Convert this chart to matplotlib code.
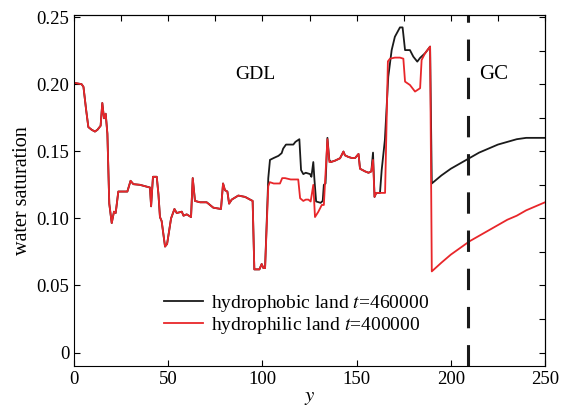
import matplotlib
matplotlib.use("Agg")
import matplotlib.pyplot as plt
from matplotlib.ticker import MultipleLocator

plt.rcParams['font.family'] = ['Liberation Serif', 'DejaVu Serif']
plt.rcParams['mathtext.fontset'] = 'stix'

# hydrophobic land, t=460000 (black)
y_phob = [0, 4, 5, 6.4, 7.6, 9.4, 11.1, 12.4, 14.1, 15, 15.9, 16.8, 17.7, 18.7, 20,
          21.2, 22.1, 23.5, 28.3, 30, 31.5, 35, 39.4, 40.3, 40.9, 41.6, 41.9, 43.9,
          44.8, 45.6, 46.5, 48.3, 49.4, 51.5, 53.3, 54.5, 57.2, 58.1, 59.8, 62.1, 63,
          64.2, 66.9, 70.4, 71.3, 73.9, 78, 79.1, 80.1, 81.4, 82.3, 83.7, 87.2, 90.8,
          93.4, 94.8, 95.7, 98.4, 99.6, 100.5, 101.4, 103.1, 104, 106, 108.5, 110.2,
          111, 112.5, 116.4, 117.5, 118.5, 119.6, 120.5, 121.7, 123, 125.3, 126, 127,
          127.6, 128.5, 130.9, 132, 132.6, 133.5, 134.5, 135.5, 136.3, 138.5, 141.2,
          143, 143.8, 145.6, 147.4, 149.2, 151, 151.8, 154.5, 156.3, 157.8, 158.7,
          159.5, 160.4, 162.4, 163.3, 165, 166.8, 168.6, 170.3, 173, 174.4, 175.7,
          178.3, 180.1, 182.2, 183.7, 186.3, 189, 189.9,
          195, 200, 205, 210, 215, 220, 225, 230, 235, 240, 245, 250]
s_phob = [0.201, 0.200, 0.198, 0.181, 0.168, 0.166, 0.1647, 0.166, 0.169, 0.186, 0.1746,
          0.178, 0.163, 0.111, 0.0965, 0.105, 0.104, 0.12, 0.12, 0.128, 0.1255, 0.125,
          0.1233, 0.123, 0.109, 0.125, 0.131, 0.131, 0.118, 0.101, 0.098, 0.079, 0.081,
          0.1, 0.107, 0.104, 0.105, 0.102, 0.103, 0.101, 0.130, 0.113, 0.112, 0.112,
          0.111, 0.108, 0.107, 0.126, 0.121, 0.12, 0.111, 0.114, 0.117, 0.116, 0.114,
          0.113, 0.062, 0.062, 0.066, 0.063, 0.063, 0.130, 0.1436, 0.145, 0.1466,
          0.1486, 0.152, 0.155, 0.155, 0.157, 0.158, 0.159, 0.136, 0.133, 0.134, 0.133,
          0.131, 0.142, 0.129, 0.1126, 0.1116, 0.113, 0.125, 0.126, 0.160, 0.1436,
          0.142, 0.143, 0.1448, 0.1498, 0.147, 0.1458, 0.145, 0.145, 0.148, 0.137,
          0.135, 0.134, 0.135, 0.149, 0.116, 0.119, 0.119, 0.136, 0.1585, 0.2056,
          0.2254, 0.2353, 0.2423, 0.2423, 0.2254, 0.2254, 0.2205, 0.2168, 0.2196,
          0.223, 0.228, 0.126,
          0.132, 0.137, 0.141, 0.145, 0.149, 0.152, 0.155, 0.157, 0.159, 0.160, 0.160, 0.160]

# hydrophilic land, t=400000 (red)
y_phil = [0, 4, 5, 6.4, 7.6, 9.4, 11.1, 12.4, 14.1, 15, 15.9, 16.8, 17.7, 18.7, 20,
          21.2, 22.1, 23.5, 28.3, 30, 31.5, 35, 39.4, 40.3, 40.9, 41.6, 41.9, 43.9,
          44.8, 45.6, 46.5, 48.3, 49.4, 51.5, 53.3, 54.5, 57.2, 58.1, 59.8, 62.1, 63,
          64.2, 66.9, 70.4, 71.3, 73.9, 78, 79.1, 80.1, 81.4, 82.3, 83.7, 87.2, 90.8,
          93.4, 94.8, 95.7, 98.4, 99.6, 100.5, 101.4, 103.1, 103.9, 106, 109.3, 110.5,
          112, 115, 119, 120, 121.7, 123, 124.4, 125.6, 127, 127.9, 129.7, 131.5, 132.6,
          133.2, 134.5, 135.5, 136.3, 138.5, 141.2, 143, 143.8, 145.6, 147.4, 149.2,
          151, 151.8, 154.5, 156.3, 157.8, 158.7, 159.5, 160.4, 165.1, 166.6, 167.7,
          170.3, 173, 174.8, 175.7, 178.3, 181, 183.7, 184.5, 186.3, 189, 189.9,
          195, 200, 205, 210, 215, 220, 225, 230, 235, 240, 245, 250]
s_phil = [0.201, 0.200, 0.198, 0.181, 0.168, 0.166, 0.1647, 0.166, 0.169, 0.186, 0.1746,
          0.178, 0.163, 0.111, 0.0965, 0.105, 0.104, 0.12, 0.12, 0.128, 0.1255, 0.125,
          0.1233, 0.123, 0.109, 0.125, 0.131, 0.131, 0.118, 0.101, 0.098, 0.079, 0.081,
          0.1, 0.107, 0.104, 0.105, 0.102, 0.103, 0.101, 0.130, 0.113, 0.112, 0.112,
          0.111, 0.108, 0.107, 0.126, 0.121, 0.12, 0.111, 0.114, 0.117, 0.116, 0.114,
          0.113, 0.062, 0.062, 0.066, 0.063, 0.063, 0.124, 0.127, 0.126, 0.126, 0.13,
          0.13, 0.129, 0.129, 0.115, 0.113, 0.114, 0.114, 0.1126, 0.125, 0.101, 0.105,
          0.11, 0.11, 0.126, 0.159, 0.142, 0.142, 0.143, 0.1448, 0.1498, 0.147, 0.1458,
          0.145, 0.145, 0.148, 0.137, 0.135, 0.134, 0.135, 0.1436, 0.116, 0.119, 0.119,
          0.217, 0.219, 0.2198, 0.2198, 0.219, 0.2019, 0.1994, 0.1945, 0.197, 0.218,
          0.223, 0.228, 0.0605,
          0.067, 0.073, 0.078, 0.083, 0.087, 0.091, 0.095, 0.099, 0.102, 0.106, 0.109, 0.112]

x_ticks = [0, 50, 100, 150, 200, 250]
s_ticks = [0, 0.05, 0.10, 0.15, 0.20, 0.25]
s_labels = ["0", "0.05", "0.10", "0.15", "0.20", "0.25"]
y_interface = 209

fig = plt.figure(figsize=(5.74, 4.07), dpi=100)
ax = fig.add_axes([0.129, 0.1007, 0.8205, 0.8623])

ax.plot(y_phob, s_phob, color="#1a1a1a", lw=1.3, label="hydrophobic land $t$=460000")
ax.plot(y_phil, s_phil, color="#e8262a", lw=1.3, label="hydrophilic land $t$=400000")
ax.axvline(y_interface, color="#1a1a1a", lw=2.2, dashes=(7, 5.5))

ax.text(96, 0.207, "GDL", fontsize=14, ha="center", va="center")
ax.text(222.5, 0.207, "GC", fontsize=15, ha="center", va="center")

ax.set_xlim(0, 250)
ax.set_ylim(-0.01, 0.2515)
ax.set_xticks(x_ticks)
ax.set_yticks(s_ticks)
ax.set_yticklabels(s_labels)
ax.tick_params(direction="in", length=4, labelsize=13.5, top=False, right=False)

# ticks on top and right without labels
sec_x = ax.secondary_xaxis("top")
sec_x.xaxis.set_major_locator(MultipleLocator(25))
sec_x.tick_params(direction="in", length=4, labeltop=False)
sec_y = ax.secondary_yaxis("right")
sec_y.yaxis.set_major_locator(MultipleLocator(0.025))
sec_y.tick_params(direction="in", length=4, labelright=False)

ax.set_xlabel("$y$", fontsize=15, labelpad=0)
ax.set_ylabel("water saturation", fontsize=14.5, labelpad=3)

ax.legend(loc="center", bbox_to_anchor=(0.473, 0.148), frameon=False, fontsize=14,
          handlelength=2.0, handletextpad=0.4, labelspacing=0.05)

fig.savefig("out.png", dpi=100)
